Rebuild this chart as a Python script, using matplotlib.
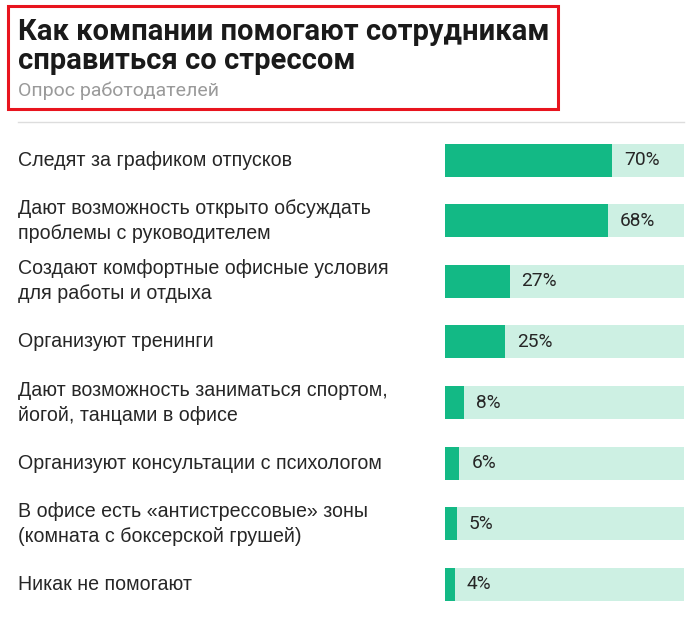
import matplotlib.pyplot as plt
from matplotlib.patches import Rectangle
from matplotlib.lines import Line2D
from matplotlib.transforms import blended_transform_factory

plt.rcParams['font.family'] = ['Liberation Sans', 'DejaVu Sans']

# данные
labels = [
    "Следят за графиком отпусков",
    "Дают возможность открыто обсуждать\nпроблемы с руководителем",
    "Создают комфортные офисные условия\nдля работы и отдыха",
    "Организуют тренинги",
    "Дают возможность заниматься спортом,\nйогой, танцами в офисе",
    "Организуют консультации с психологом",
    "В офисе есть «антистрессовые» зоны\n(комната с боксерской грушей)",
    "Никак не помогают",
]
values = [70, 68, 27, 25, 8, 6, 5, 4]

title = "Как компании помогают сотрудникам\nсправиться со стрессом"
subtitle = "Опрос работодателей"

W, H = 700, 623
fig = plt.figure(figsize=(W / 100, H / 100), dpi=100)

def fx(px):
    return px / W

def fy(py):
    return 1 - py / H

# область баров
ax = fig.add_axes([fx(445), fy(614.5), fx(684) - fx(445), (614.5 - 130) / H])
ypos = list(range(len(values)))
ax.barh(ypos, [100] * len(values), height=0.545, color="#cdf0e3", linewidth=0)
ax.barh(ypos, values, height=0.545, color="#13b985", linewidth=0)
ax.set_xlim(0, 100)
ax.set_ylim(len(values) - 0.5, -0.5)
ax.axis("off")

for i, v in enumerate(values):
    ax.annotate(f"{v}%", (v, i), xytext=(12, 0), textcoords="offset pixels",
                va="center", ha="left", fontsize=13.8, color="#262626",
                family=["Roboto", "DejaVu Sans"])

tr = blended_transform_factory(fig.transFigure, ax.transData)
for i, lab in enumerate(labels):
    ax.text(fx(18), i, lab, transform=tr, va="center", ha="left",
            fontsize=14.1, color="#262626", linespacing=1.4)

# заголовок
fig.text(fx(18), fy(18), title, va="top", ha="left", fontsize=21,
         fontweight="bold", color="#1a1a1a", linespacing=1.04,
         family=["Roboto", "DejaVu Sans"])
fig.text(fx(18), fy(91), subtitle, va="center", ha="left", fontsize=14,
         color="#9a9a9a", family=["Roboto", "DejaVu Sans"])

fig.patches.append(Rectangle((fx(8), fy(109)), fx(558) - fx(8), (109 - 6) / H,
                             transform=fig.transFigure, fill=False,
                             edgecolor="#e8141e", linewidth=2.2))
fig.lines.append(Line2D([fx(18), fx(684)], [fy(122), fy(122)],
                        transform=fig.transFigure, color="#dddddd", linewidth=1))

fig.savefig("out.png", dpi=100)
